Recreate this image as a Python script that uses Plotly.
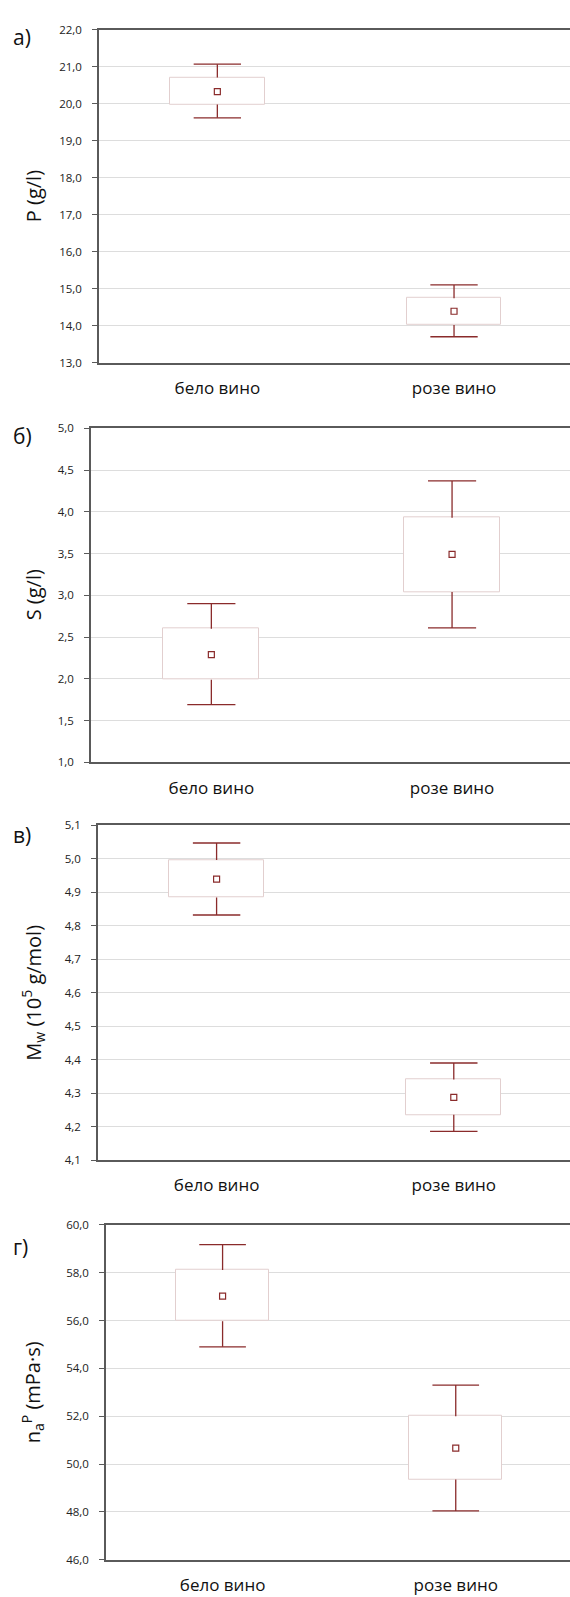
import plotly.graph_objects as go

# Wine types on the category axis
categories = ["бело вино", "розе вино"]

# Five-number style summaries per parameter: lower whisker, Q1, mean, Q3, upper whisker
P_min = [19.62, 13.70]
P_q1 = [19.98, 14.02]
P_mean = [20.33, 14.39]
P_q3 = [20.71, 14.74]
P_max = [21.07, 15.10]

S_min = [1.69, 2.61]
S_q1 = [1.99, 3.04]
S_mean = [2.29, 3.49]
S_q3 = [2.60, 3.93]
S_max = [2.90, 4.37]

Mw_min = [4.832, 4.186]
Mw_q1 = [4.884, 4.235]
Mw_mean = [4.939, 4.287]
Mw_q3 = [4.996, 4.341]
Mw_max = [5.047, 4.390]

eta_min = [54.90, 48.04]
eta_q1 = [55.97, 49.35]
eta_mean = [57.02, 50.67]
eta_q3 = [58.11, 52.00]
eta_max = [59.17, 53.30]

# Y tick values for each panel
P_ticks = [13, 14, 15, 16, 17, 18, 19, 20, 21, 22]
S_ticks = [1.0, 1.5, 2.0, 2.5, 3.0, 3.5, 4.0, 4.5, 5.0]
Mw_ticks = [4.1, 4.2, 4.3, 4.4, 4.5, 4.6, 4.7, 4.8, 4.9, 5.0, 5.1]
eta_ticks = [46, 48, 50, 52, 54, 56, 58, 60]

panel_letters = ["а)", "б)", "в)", "г)"]
y_titles = [
    "P (g/l)",
    "S (g/l)",
    "M<sub>w</sub> (10<sup>5</sup> g/mol)",
    "n<sub>a</sub><sup>P</sup> (mPa·s)",
]

W, H = 570, 1597
DARK_RED = "#8a2b2b"
BOX_EDGE = "#e2cfcf"
GRID = "#dddddd"
AXIS = "#5a5a5a"
FONT = "Open Sans"

# Panel geometry in pixels: (left, top, bottom, letter centre)
panels = [
    (99, 22, 358, 29),
    (91, 424.3, 761.5, 432),
    (98, 825, 1163, 835),
    (106, 1228.3, 1566.5, 1251),
]

data = [
    (P_min, P_q1, P_mean, P_q3, P_max, P_ticks, ".1f"),
    (S_min, S_q1, S_mean, S_q3, S_max, S_ticks, ".1f"),
    (Mw_min, Mw_q1, Mw_mean, Mw_q3, Mw_max, Mw_ticks, ".1f"),
    (eta_min, eta_q1, eta_mean, eta_q3, eta_max, eta_ticks, ".1f"),
]

BOX_W = 0.4
CAP_HALF = 0.1

fig = go.Figure()
layout_axes = {}
annotations = []

for i, ((left, top, bottom, letter_y), (lo, q1, mn, q3, hi, ticks, fmt)) in enumerate(zip(panels, data)):
    n = i + 1
    xa = "x" if n == 1 else f"x{n}"
    ya = "y" if n == 1 else f"y{n}"
    xpos = list(range(len(categories)))

    # Box body (Q1..Q3)
    fig.add_trace(go.Bar(
        x=xpos, y=[b - a for a, b in zip(q1, q3)], base=q1, width=BOX_W,
        marker=dict(color="white", line=dict(color=BOX_EDGE, width=1)),
        xaxis=xa, yaxis=ya, showlegend=False, hoverinfo="skip",
    ))

    # Whiskers with caps
    wx, wy = [], []
    for k in xpos:
        wx += [k, k, None, k - CAP_HALF, k + CAP_HALF, None,
               k, k, None, k - CAP_HALF, k + CAP_HALF, None]
        wy += [q3[k], hi[k], None, hi[k], hi[k], None,
               q1[k], lo[k], None, lo[k], lo[k], None]
    fig.add_trace(go.Scatter(
        x=wx, y=wy, mode="lines", line=dict(color=DARK_RED, width=1.3),
        xaxis=xa, yaxis=ya, showlegend=False, hoverinfo="skip",
    ))

    # Mean markers
    fig.add_trace(go.Scatter(
        x=xpos, y=mn, mode="markers",
        marker=dict(symbol="square-open", size=6, color=DARK_RED, line=dict(width=1.2)),
        xaxis=xa, yaxis=ya, showlegend=False,
    ))

    ydom = [1 - bottom / H, 1 - top / H]
    key = "" if n == 1 else str(n)
    layout_axes[f"xaxis{key}"] = dict(
        domain=[left / W, 1], anchor=ya, range=[-0.5, 1.49],
        tickmode="array", tickvals=xpos, ticktext=categories,
        showgrid=False, zeroline=False,
        showline=True, linecolor=AXIS, linewidth=1.6, mirror=True,
        ticks="", ticklabelstandoff=9,
        tickfont=dict(family=FONT, size=17, color="#111111"),
    )
    layout_axes[f"yaxis{key}"] = dict(
        domain=ydom, anchor=xa, range=[ticks[0], ticks[-1]],
        tickmode="array", tickvals=ticks, tickformat=fmt,
        showgrid=True, gridcolor=GRID, gridwidth=1, zeroline=False,
        showline=True, linecolor=AXIS, linewidth=1.6,
        ticks="outside", ticklen=5, tickcolor=AXIS, tickwidth=1,
        ticklabelstandoff=8,
        tickfont=dict(family=FONT, size=11.5, color="#222222"),
    )

    # Panel letter
    annotations.append(dict(
        text=panel_letters[i], xref="paper", yref="paper",
        x=11 / W, y=1 - letter_y / H, xanchor="left", yanchor="middle",
        showarrow=False, font=dict(family=FONT, size=21, color="#111111"),
    ))
    # Y axis title
    annotations.append(dict(
        text=y_titles[i], xref="paper", yref="paper",
        x=33 / W, y=1 - (top + bottom) / 2 / H, xanchor="center", yanchor="middle",
        textangle=-90, showarrow=False,
        font=dict(family=FONT, size=20, color="#111111"),
    ))

fig.update_layout(
    width=W, height=H,
    margin=dict(l=0, r=0, t=0, b=0),
    paper_bgcolor="white", plot_bgcolor="white",
    separators=", ",
    bargap=0,
    annotations=annotations,
    **layout_axes,
)

fig.write_html("out.html")
